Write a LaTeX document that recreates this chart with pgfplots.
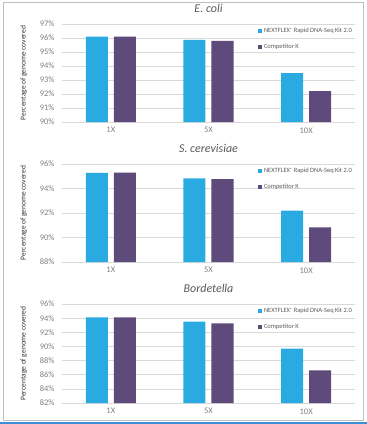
\documentclass[border=0pt]{standalone}
\usepackage{pgfplots}
\pgfplotsset{compat=1.18}
\usepackage{fontspec}
\setmainfont{Carlito}
\definecolor{nfblue}{HTML}{29ABE2}
\definecolor{comppurple}{HTML}{5F4B7B}
\definecolor{ticktxt}{HTML}{7F7F7F}
\definecolor{gridc}{HTML}{D9D9D9}
\definecolor{titletxt}{HTML}{595959}
\definecolor{framec}{HTML}{BFBFBF}
\definecolor{bottomblue}{HTML}{3A8FD8}
\newcommand{\reg}{\raisebox{1.6bp}{\fontsize{4.5}{5}\selectfont ®}}
\pgfplotsset{
  panel/.style={
    scale only axis,
    width=293bp,
    ybar=6bp,
    bar width=22bp,
    xmin=-0.5, xmax=2.5,
    xtick={0,1,2},
    xticklabels={1X,5X,10X},
    axis line style={draw=none},
    axis x line*=bottom,
    x axis line style={draw=gridc},
    axis y line*=left,
    y axis line style={draw=none},
    major tick length=0pt,
    ymajorgrids,
    grid style={gridc, line width=0.6pt},
    tick label style={font=\fontsize{8.5}{9}\selectfont, text=ticktxt},
    yticklabel={\pgfmathparse{int(round(\tick))}\pgfmathresult\%},
    ylabel={Percentage of genome covered},
    ylabel style={font=\fontsize{7.5}{8}\selectfont, text=black!80},
    ylabel shift=6bp,
    title style={font=\fontsize{12}{13}\selectfont\itshape, text=titletxt, at={(0.5,1)}, anchor=base, yshift=6bp},
    legend style={at={(1,1)}, anchor=north east, draw=none, fill=none,
      font=\fontsize{6.5}{7}\selectfont, text=titletxt, row sep=5.5bp, inner sep=1bp, yshift=-1bp, xshift=0bp},
    legend cell align=left,
    legend image code/.code={\fill[##1] (0bp,-2.2bp) rectangle (4.4bp,2.2bp);},
    xticklabel style={yshift=-2bp},
    yticklabel style={xshift=-4bp},
  }
}
\begin{document}
\begin{tikzpicture}
\path[use as bounding box] (0,0) rectangle (367bp,-424bp);
\draw[framec, line width=0.7pt] (3bp,-2bp) rectangle (363bp,-420bp);
\fill[bottomblue] (0bp,-422bp) rectangle (367bp,-424bp);

\begin{axis}[panel, at={(62bp,-122bp)}, anchor=south west, height=98bp,
  ymin=90, ymax=97, ytick={90,91,...,97}, title={E. coli}]
\addplot[fill=nfblue, draw=none] coordinates {(0,96.1) (1,95.86) (2,93.5)};
\addplot[fill=comppurple, draw=none] coordinates {(0,96.1) (1,95.8) (2,92.2)};
\legend{NEXTFLEX\reg{} Rapid DNA-Seq Kit 2.0, Competitor K}
\end{axis}

\begin{axis}[panel, at={(62bp,-262bp)}, anchor=south west, height=98bp,
  ymin=88, ymax=96, ytick={88,90,...,96}, title={S. cerevisiae}]
\addplot[fill=nfblue, draw=none] coordinates {(0,95.27) (1,94.82) (2,92.2)};
\addplot[fill=comppurple, draw=none] coordinates {(0,95.3) (1,94.77) (2,90.83)};
\legend{NEXTFLEX\reg{} Rapid DNA-Seq Kit 2.0, Competitor K}
\end{axis}

\begin{axis}[panel, at={(62bp,-403bp)}, anchor=south west, height=99bp,
  ymin=82, ymax=96, ytick={82,84,...,96}, title={Bordetella}]
\addplot[fill=nfblue, draw=none] coordinates {(0,94.1) (1,93.5) (2,89.7)};
\addplot[fill=comppurple, draw=none] coordinates {(0,94.1) (1,93.26) (2,86.6)};
\legend{NEXTFLEX\reg{} Rapid DNA-Seq Kit 2.0, Competitor K}
\end{axis}
\end{tikzpicture}
\end{document}
